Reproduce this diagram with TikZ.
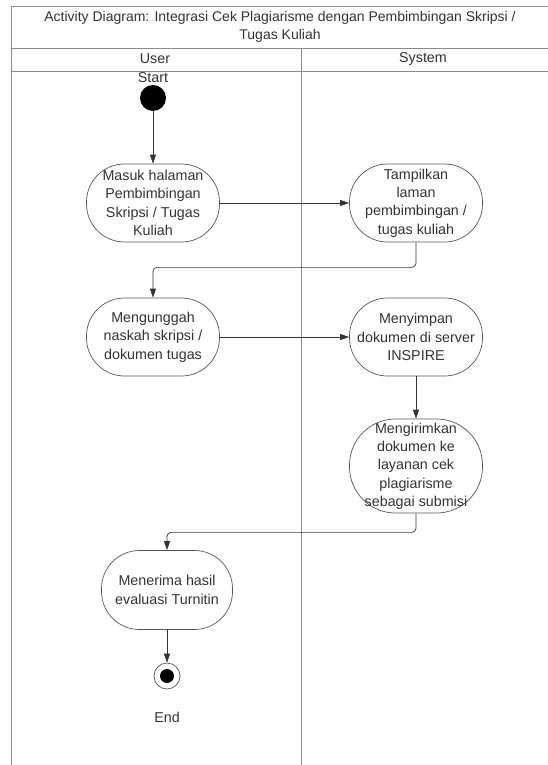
\documentclass[tikz,border=0pt]{standalone}
\usepackage{fontspec}
\setmainfont{Liberation Sans}
\usetikzlibrary{arrows.meta}
\definecolor{frame}{HTML}{8C8C8C}
\definecolor{ink}{HTML}{333333}
\definecolor{edge}{HTML}{555555}
\begin{document}
\begin{tikzpicture}[x=1pt,y=-1pt,
  every node/.style={font=\fontsize{14.3}{18.3}\selectfont, text=ink},
  act/.style={draw=edge, line width=0.7pt, rounded corners=38pt, align=center,
    minimum width=133pt, minimum height=78pt, inner sep=0pt},
  flow/.style={draw=ink, line width=0.7pt, rounded corners=4pt,
    -{Triangle[length=9pt,width=6pt]}},
  lane/.style={draw=frame, line width=0.8pt}]
\useasboundingbox (0,0) rectangle (547,765);
\fill[white] (0,0) rectangle (547,765);

% swimlane frame
\draw[lane] (11,765) -- (11,6) -- (560,6);
\draw[lane] (11,48) -- (560,48);
\draw[lane] (11,71) -- (560,71);
\draw[lane] (301,48) -- (301,765);
\node (title) at (280,27) [align=center, font=\fontsize{14}{18}\selectfont] {Activity Diagram: Integrasi Cek Plagiarisme dengan Pembimbingan Skripsi /\\Tugas Kuliah};
\node (userlane) at (155,59) {User};
\node (syslane) at (423,59) {System};

% start and end
\node (startlbl) at (153,78) {Start};
\node (start) at (153,98) [circle, fill=black, minimum size=26pt, inner sep=0pt] {};
\node (end) at (167,676) [circle, draw=edge, line width=0.7pt, fill=white, minimum size=26pt, inner sep=0pt] {};
\fill[black] (end.center) circle (7pt);
\node (endlbl) at (167,717) {End};

% activities
\node (a1) at (153,203) [act] {Masuk halaman\\Pembimbingan\\Skripsi / Tugas\\Kuliah};
\node (a2) at (416,203) [act] {Tampilkan\\laman\\pembimbingan /\\tugas kuliah};
\node (a3) at (153,337) [act] {Mengunggah\\naskah skripsi /\\dokumen tugas};
\node (a4) at (416,337) [act] {Menyimpan\\dokumen di server\\INSPIRE};
\node (a5) at (416,466) [act, minimum height=94pt, rounded corners=46pt] {Mengirimkan\\dokumen ke\\layanan cek\\plagiarisme\\sebagai submisi};
\node (a6) at (167,590) [act, minimum width=131pt, minimum height=79pt] {Menerima hasil\\evaluasi Turnitin};

% control flow
\draw[flow] (start) -- (a1);
\draw[flow] (a1) -- (a2);
\draw[flow] (a2.south) -- ++(0,25) -| (a3.north);
\draw[flow] (a3) -- (a4);
\draw[flow] (a4) -- (a5);
\draw[flow] (a5.south) -- ++(0,19) -| (a6.north);
\draw[flow] (a6) -- (end);
\end{tikzpicture}
\end{document}
